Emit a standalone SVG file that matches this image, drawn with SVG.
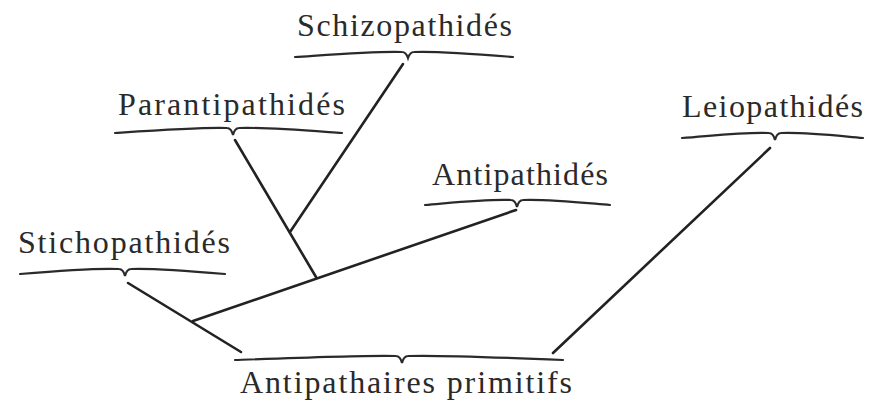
<svg xmlns="http://www.w3.org/2000/svg" width="873" height="401" viewBox="0 0 873 401">
<style>
.lbl{font-family:"Liberation Serif","Times New Roman",serif;font-size:32px;fill:#2a2a2a}
.brace{fill:none;stroke:#2a2a2a;stroke-width:2.2;stroke-linecap:round}
.edge{fill:none;stroke:#222;stroke-width:2.6;stroke-linecap:round}
</style>
<rect width="873" height="401" fill="#ffffff"/>
<g id="connectors">
<line class="edge" x1="403" y1="64" x2="290" y2="232"/>
<line class="edge" x1="235" y1="140" x2="316" y2="277"/>
<line class="edge" x1="516" y1="210" x2="193" y2="321"/>
<line class="edge" x1="128" y1="283" x2="241" y2="352"/>
<line class="edge" x1="770" y1="148" x2="553" y2="353"/>
</g>
<g id="schizopathides">
<text class="lbl" x="297" y="36" textLength="215" lengthAdjust="spacing">Schizopathidés</text>
<path class="brace" d="M295,57 C340,54 378,51 402,52 C405,52 407,55 408,58 C409,55 411,52 414,52 C438,51 476,54 513,57"/>
</g>
<g id="parantipathides">
<text class="lbl" x="118" y="115" textLength="227" lengthAdjust="spacing">Parantipathidés</text>
<path class="brace" d="M115,133 C160,130 203,127 227,128 C230,128 232,131 233,135 C234,131 236,128 239,128 C263,127 300,130 342,133"/>
</g>
<g id="leiopathides">
<text class="lbl" x="682" y="117" textLength="181" lengthAdjust="spacing">Leiopathidés</text>
<path class="brace" d="M682,138 C720,135 745,132 769,133 C772,133 774,136 775,140 C776,136 778,133 781,133 C805,132 830,135 863,138"/>
</g>
<g id="antipathides">
<text class="lbl" x="432" y="185" textLength="176" lengthAdjust="spacing">Antipathidés</text>
<path class="brace" d="M425,205 C460,202 487,199 511,200 C514,200 516,203 517,207 C518,203 520,200 523,200 C547,199 575,202 610,205"/>
</g>
<g id="stichopathides">
<text class="lbl" x="18" y="253" textLength="212" lengthAdjust="spacing">Stichopathidés</text>
<path class="brace" d="M20,274 C55,271 95,268 119,269 C122,269 124,272 125,276 C126,272 128,269 131,269 C155,268 190,271 225,274"/>
</g>
<g id="antipathaires-primitifs">
<path class="brace" d="M235,360 C290,358 370,355 396,356 C399,356 401,359 402,363 C403,359 405,356 408,356 C434,355 515,358 563,360"/>
<text class="lbl" x="240" y="393" textLength="332" lengthAdjust="spacing">Antipathaires primitifs</text>
</g>
</svg>
